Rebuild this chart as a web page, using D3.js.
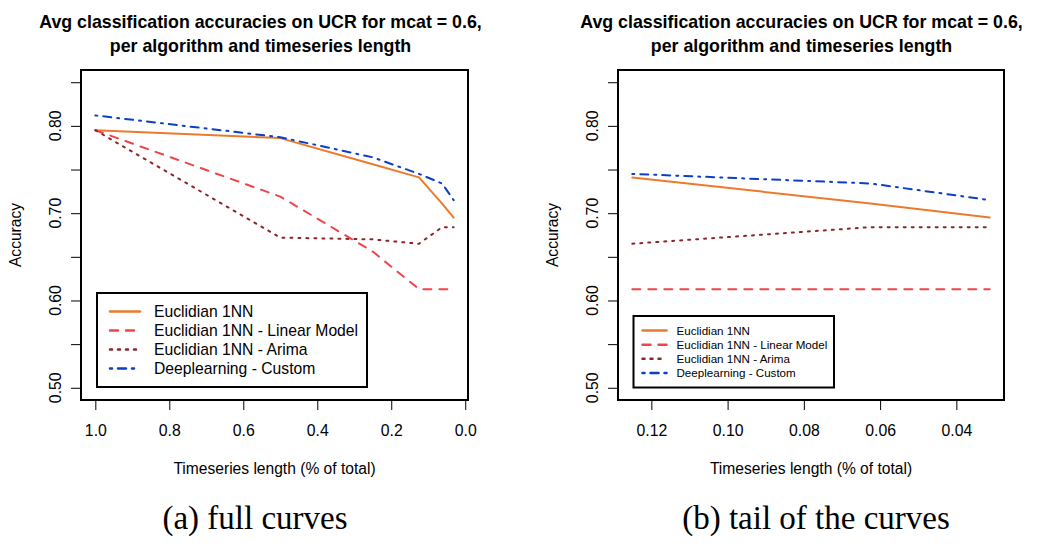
<!DOCTYPE html>
<html>
<head>
<meta charset="utf-8">
<script src="https://d3js.org/d3.v7.min.js"></script>
<style>
  body { margin: 0; background: #fff; }
  svg { display: block; font-family: "Liberation Sans", Arial, sans-serif; }
  .title { font-weight: bold; font-size: 17.8px; text-anchor: middle; }
  .tick-label { font-size: 15.8px; text-anchor: middle; }
  .axis-title { font-size: 15.6px; text-anchor: middle; }
  .caption { font-family: "Liberation Serif", "DejaVu Serif", serif; font-size: 33px; text-anchor: middle; }
</style>
</head>
<body>
<script>
// timeseries length as fraction of total
const lengths = [1, 0.5, 0.25, 0.125, 0.0625, 0.03125];

// average accuracy per algorithm
const euclid = [0.795, 0.786, 0.756, 0.741, 0.711, 0.695];
const linearModel = [0.795, 0.719, 0.656, 0.613, 0.613, 0.613];
const arima = [0.795, 0.672, 0.670, 0.665, 0.684, 0.684];
const deep = [0.812, 0.787, 0.764, 0.745, 0.734, 0.715];

const seriesNames = ['Euclidian 1NN', 'Euclidian 1NN - Linear Model', 'Euclidian 1NN - Arima', 'Deeplearning - Custom'];
const seriesColors = ['#ec7a2c', '#f0444a', '#8b2626', '#0b3fc6'];
const seriesDash = [null, '8,8', '2,6', '2,6,8,6'];

const fullTicks = [1.0, 0.8, 0.6, 0.4, 0.2, 0.0];
const tailTicks = [0.12, 0.10, 0.08, 0.06, 0.04];
const yTicks = [0.50, 0.55, 0.60, 0.65, 0.70, 0.75, 0.80, 0.85];
const yLabelled = [0.50, 0.60, 0.70, 0.80];

const titleLines = ['Avg classification accuracies on UCR for mcat = 0.6,', 'per algorithm and timeseries length'];
const captions = ['(a) full curves', '(b) tail of the curves'];

const W = 1047, H = 545;
const svg = d3.select('body').append('svg').attr('width', W).attr('height', H);

const allSeries = [euclid, linearModel, arima, deep];

// R style axis range: data range extended by 4%
function rRange(lo, hi) {
    const d = (hi - lo) * 0.04;
    return [lo - d, hi + d];
}

const panels = [
    {
        left: 81, right: 468, titleX: 260.5, captionX: 255,
        idx: [0, 1, 2, 3, 4, 5], ticks: fullTicks, fmt: d3.format('.1f'),
        legend: { x: 97, y: 293, w: 270, h: 94, row: 19, fs: 15.7, lx0: 13, lx1: 43, tx: 57 }
    },
    {
        left: 618, right: 1004, titleX: 801.5, captionX: 816,
        idx: [3, 4, 5], ticks: tailTicks, fmt: d3.format('.2f'),
        legend: { x: 633.5, y: 316, w: 200.5, h: 71.5, row: 14.2, fs: 11.6, lx0: 9, lx1: 33, tx: 43 }
    }
];

const plotTop = 70, plotBottom = 400;
const y = d3.scaleLinear().domain(rRange(0.50, 0.85)).range([plotBottom, plotTop]);

panels.forEach((p, pi) => {
    const g = svg.append('g');
    const xs = p.idx.map(i => lengths[i]);
    const x = d3.scaleLinear()
        .domain(rRange(d3.min(xs), d3.max(xs)).reverse())
        .range([p.left, p.right]);

    // titles
    titleLines.forEach((t, i) => {
        g.append('text').attr('class', 'title')
            .attr('x', p.titleX).attr('y', 27.5 + i * 24).text(t);
    });

    // lines
    const line = d3.line().x(d => x(d[0])).y(d => y(d[1]));
    allSeries.forEach((s, si) => {
        g.append('path')
            .datum(p.idx.map(i => [lengths[i], s[i]]))
            .attr('d', line)
            .attr('fill', 'none')
            .attr('stroke', seriesColors[si])
            .attr('stroke-width', 2)
            .attr('stroke-linecap', 'round')
            .attr('stroke-linejoin', 'round')
            .attr('stroke-dasharray', seriesDash[si]);
    });

    // x axis
    const xa = g.append('g').attr('transform', `translate(0,${plotBottom})`)
        .call(d3.axisBottom(x).tickValues(p.ticks).tickFormat(p.fmt).tickSize(10).tickPadding(14.5));
    xa.select('.domain').remove();
    xa.selectAll('text').attr('font-size', 15.8).attr('font-family', 'Liberation Sans, Arial, sans-serif').attr('fill', '#000');
    xa.selectAll('line').attr('stroke', '#000');

    // y axis
    const ya = g.append('g').attr('transform', `translate(${p.left},0)`)
        .call(d3.axisLeft(y).tickValues(yTicks).tickFormat('').tickSize(10));
    ya.select('.domain').remove();
    ya.selectAll('line').attr('stroke', '#000');
    g.selectAll('.ylab').data(yLabelled).join('text')
        .attr('class', 'tick-label')
        .attr('transform', d => `translate(${p.left - 20.5},${y(d)}) rotate(-90)`)
        .text(d => d3.format('.2f')(d));

    // box
    g.append('rect')
        .attr('x', p.left).attr('y', plotTop)
        .attr('width', p.right - p.left).attr('height', plotBottom - plotTop)
        .attr('fill', 'none').attr('stroke', '#000').attr('stroke-width', 2);

    // axis titles
    const cx = (p.left + p.right) / 2;
    g.append('text').attr('class', 'axis-title')
        .attr('x', cx).attr('y', 474).text('Timeseries length (% of total)');
    g.append('text').attr('class', 'axis-title')
        .attr('transform', `translate(${p.left - 60},${(plotTop + plotBottom) / 2}) rotate(-90)`)
        .text('Accuracy');

    // legend
    const L = p.legend;
    const lg = g.append('g').attr('transform', `translate(${L.x},${L.y})`);
    lg.append('rect').attr('width', L.w).attr('height', L.h)
        .attr('fill', '#fff').attr('stroke', '#000').attr('stroke-width', 2);
    const firstRow = L.h / 2 - 1.5 * L.row;
    seriesNames.forEach((n, si) => {
        const ry = firstRow + si * L.row;
        lg.append('line')
            .attr('x1', L.lx0).attr('x2', L.lx1).attr('y1', ry).attr('y2', ry)
            .attr('stroke', seriesColors[si]).attr('stroke-width', 2.5)
            .attr('stroke-linecap', 'round')
            .attr('stroke-dasharray', seriesDash[si]);
        lg.append('text').attr('x', L.tx).attr('y', ry)
            .attr('dy', '0.35em').attr('font-size', L.fs).text(n);
    });

    // caption
    svg.append('text').attr('class', 'caption')
        .attr('x', p.captionX).attr('y', 529).text(captions[pi]);
});
</script>
</body>
</html>
